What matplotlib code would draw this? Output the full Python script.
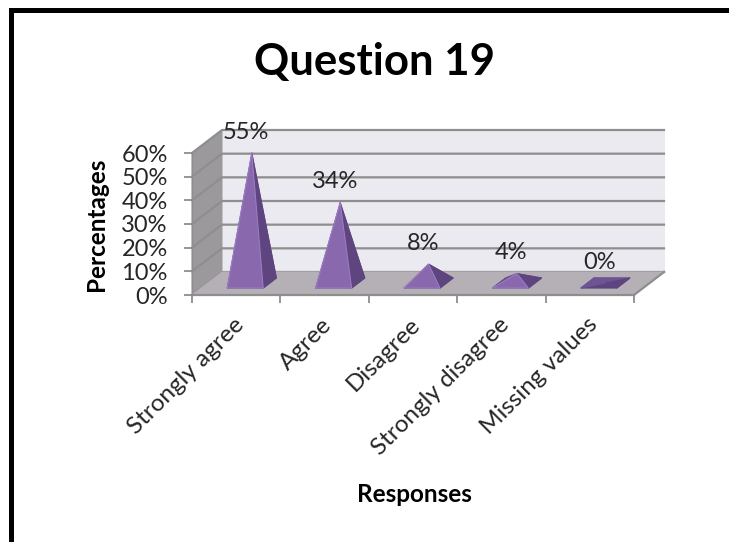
# -*- coding: utf-8 -*-
# Question 19 - fake 3D pyramid column chart
import numpy as np
import matplotlib
matplotlib.use("Agg")
from matplotlib import pyplot as plt
from matplotlib.patches import Polygon

plt.rcParams['font.family'] = ['Lato', 'DejaVu Sans']

categories = ['Strongly agree', 'Agree', 'Disagree', 'Strongly disagree', 'Missing values']
values = [55, 34, 8, 4, 0]
value_labels = ['55%', '34%', '8%', '4%', '0%']
y_ticks = [0, 10, 20, 30, 40, 50, 60]
y_tick_labels = ['0%', '10%', '20%', '30%', '40%', '50%', '60%']

W, H = 729, 542
# depth of the box in data units, one unit of depth = 30px right and 23px up
DX = 30 / (442 / 5.0)
DY = 23 / (142 / 60.0)

C_FRONT = '#8A68AE'
C_RIGHT = '#5E4580'
C_BACK = '#6F5493'
C_EDGE = '#9C80C2'
C_WALL = '#ECEAF1'
C_FLOOR = '#B5B0B5'
C_SIDE = '#9B999C'
C_GRID = '#8E8E8E'
C_TEXT = '#262626'


def proj(c, v, d):
    # category, value, depth -> plain data coords of the axes
    return (c + d * DX, v + d * DY)


def poly(ax, pts, color, edge=None, z=2):
    ax.add_patch(Polygon(pts, closed=True, facecolor=color, edgecolor=edge or color,
                         linewidth=0.7, zorder=z, clip_on=False))


fig = plt.figure(figsize=(W / 100.0, H / 100.0), dpi=100)
fig.patch.set_facecolor('white')

# frame of the screenshot: top and left only
fig.add_artist(plt.Rectangle((9.0 / W, 0), 5.0 / W, 1 - 8.0 / H, color='black', lw=0))
fig.add_artist(plt.Rectangle((9.0 / W, 1 - 13.0 / H), (W - 9.0) / W, 5.0 / H, color='black', lw=0))

# front plane of the box is the axes itself
ax = fig.add_axes([192.0 / W, 1 - 295.0 / H, 442.0 / W, 142.0 / H])
ax.set_xlim(-0.5, 4.5)
ax.set_ylim(0, 60)
ax.patch.set_visible(False)
for s in ax.spines.values():
    s.set_visible(False)
ax.set_xticks(np.arange(-0.5, 5.0, 1.0))
ax.set_xticklabels([])
ax.set_yticks(y_ticks)
ax.set_yticklabels(y_tick_labels, fontsize=17, color=C_TEXT)
ax.tick_params(axis='both', length=5.5, width=1.3, color=C_GRID)
ax.tick_params(axis='y', pad=12)

x0, x1 = -0.5, 4.5
y0, y1 = 0, 60
poly(ax, [proj(x0, y0, 1), proj(x1, y0, 1), proj(x1, y1, 1), proj(x0, y1, 1)], C_WALL, z=1)
poly(ax, [proj(x0, y0, 0), proj(x0, y1, 0), proj(x0, y1, 1), proj(x0, y0, 1)], C_SIDE, z=1)
poly(ax, [proj(x0, y0, 0), proj(x1, y0, 0), proj(x1, y0, 1), proj(x0, y0, 1)], C_FLOOR, z=1.5)

for t in y_ticks:
    a = proj(x0, t, 0)
    b = proj(x0, t, 1)
    c = proj(x1, t, 1)
    ax.plot([a[0], b[0], c[0]], [a[1], b[1], c[1]], color=C_GRID, lw=1.6, zorder=1.2, clip_on=False)
ax.plot([x0, x1], [y0, y0], color=C_GRID, lw=1.6, zorder=1.6, clip_on=False)
ax.plot(*zip(proj(x1, y0, 0), proj(x1, y0, 1)), color=C_GRID, lw=1.6, zorder=1.6, clip_on=False)
ax.plot(*zip(proj(x0, y0, 0), proj(x0, y1, 0)), color=C_GRID, lw=1.0, zorder=1.6, clip_on=False)

# pyramids
hw = 0.204
d_front, d_back = 0.30, 0.74
d_mid = (d_front + d_back) / 2.0
for i, v in enumerate(values):
    fl = proj(i - hw, 0, d_front)
    fr = proj(i + hw, 0, d_front)
    bl = proj(i - hw, 0, d_back)
    br = proj(i + hw, 0, d_back)
    top = proj(i, v, d_mid)
    poly(ax, [fl, fr, br, bl], C_RIGHT, z=3)
    poly(ax, [bl, br, top], C_BACK, z=3.1)
    poly(ax, [fl, bl, top], C_BACK, z=3.2)
    poly(ax, [fr, br, top], C_RIGHT, z=3.3)
    if v > 0:
        poly(ax, [fl, fr, top], C_FRONT, edge=C_EDGE, z=3.4)
    ax.annotate(value_labels[i], xy=top, xytext=(-4, 15), textcoords='offset points',
                ha='center', va='center', fontsize=17, color=C_TEXT, zorder=5,
                annotation_clip=False)

# category labels, rotated, ending under the tick of each slot
for i, name in enumerate(categories):
    ax.annotate(name, xy=(i, 0), xytext=(3, -19), textcoords='offset points',
                rotation=45, rotation_mode='anchor', ha='right', va='center',
                fontsize=17.5, color=C_TEXT, annotation_clip=False)

fig.text(374.0 / W, 1 - 62.0 / H, 'Question 19', ha='center', va='center',
         fontsize=31.5, fontweight='bold', color='black')
fig.text(97.0 / W, 1 - 224.0 / H, 'Percentages', rotation=90, ha='center', va='center',
         fontsize=17.5, fontweight='bold', color='black')
fig.text(414.0 / W, 1 - 494.0 / H, 'Responses', ha='center', va='center',
         fontsize=17.5, fontweight='bold', color='black')

fig.savefig('out.png', dpi=100)
